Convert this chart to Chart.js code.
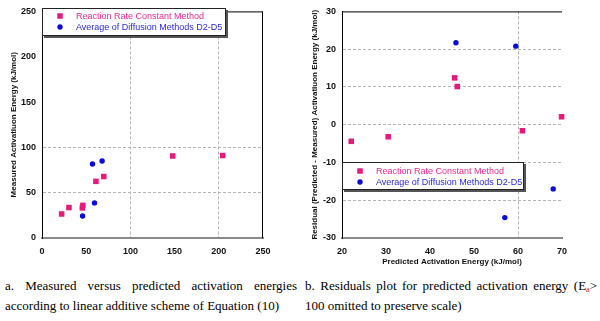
<!DOCTYPE html>
<html>
<head>
<meta charset="utf-8">
<script src="https://cdn.jsdelivr.net/npm/chart.js@4/dist/chart.umd.min.js"></script>
<style>
  html, body { margin: 0; padding: 0; background: #fff; }
  body { width: 600px; height: 321px; position: relative; overflow: hidden; }
  canvas { position: absolute; top: 0; }
  #c1 { left: 0; }
  #c2 { left: 300px; }
  .cap { position: absolute; font-family: "Liberation Serif", "Times New Roman", serif; font-size: 13px; line-height: 20px; color: #000; white-space: nowrap; }
  .just { text-align: justify; text-align-last: justify; white-space: normal; }
  sub { font-size: 8px; color: #e0202a; vertical-align: -2px; line-height: 0; }
</style>
</head>
<body>
<canvas id="c1" width="300" height="270"></canvas>
<canvas id="c2" width="300" height="270"></canvas>
<div class="cap just" style="left:5px; top:276px; width:292px;">a. Measured versus predicted activation energies</div>
<div class="cap" style="left:5px; top:296px;">according to linear additive scheme of Equation (10)</div>
<div class="cap just" style="left:305px; top:276px; width:292px;">b. Residuals plot for predicted activation energy (E<sub>a</sub>&gt;</div>
<div class="cap" style="left:305px; top:296px;">100 omitted to preserve scale)</div>
<script>
// ---- Data ----
const seriesNames = ["Reaction Rate Constant Method", "Average of Diffusion Methods D2-D5"];

// Chart a: measured vs predicted
const rrcPredicted  = [22.2, 30.5, 45.6, 46.2, 61.0, 69.9, 147.8, 204.4];
const rrcMeasured   = [26.5, 33.6, 33.2, 36.0, 62.5, 67.8, 90.5, 91.0];
const diffPredicted = [45.9, 59.4, 57.1, 68.0];
const diffMeasured  = [24.3, 38.7, 81.6, 85.0];

// Chart b: residuals (predicted < 100 only)
const rrcResPredicted  = [22.1, 30.5, 45.6, 46.2, 61.0, 69.9];
const rrcResidual      = [-4.4, -3.2, 12.4, 10.1, -1.6, 2.1];
const diffResPredicted = [45.9, 59.5, 57.0, 68.0];
const diffResidual     = [21.7, 20.8, -24.6, -17.0];

// Axis tick settings
const axisA = { xMin: 0, xMax: 250, xStep: 50, yMin: 0, yMax: 250, yStep: 50 };
const axisB = { xMin: 20, xMax: 70, xStep: 10, yMin: -30, yMax: 30, yStep: 10 };
const gridA = { x: [100, 200], y: [50, 100] };
const gridB = { x: [60], y: [-20, -10, 0, 10, 20] };

const titles = {
  yA: "Measured Activatiuon Energy (kJ/mol)",
  yB: "Residual (Predicted - Measured) Activatiuon Energy (kJ/mol)",
  xB: "Predicted Activation Energy (kJ/mol)"
};

// ---- Styles ----
const PINK = "#e8197a";
const BLUE = "#0a0ae0";
const PINK_TXT = "#ee2a8a";
const BLUE_TXT = "#2a2ad8";
const FONT = "'Liberation Sans', Arial, sans-serif";

function toPoints(xs, ys) { return xs.map((x, i) => ({ x: x, y: ys[i] })); }

const framePlugin = {
  id: 'frame',
  afterDraw(chart, args, opts) {
    const { ctx, chartArea: a } = chart;
    ctx.save();
    ctx.strokeStyle = '#000';
    ctx.lineWidth = 1;
    ctx.beginPath();
    ctx.moveTo(a.left, a.top + 0.5);
    ctx.lineTo(a.right, a.top + 0.5);
    if (opts.right) {
      ctx.moveTo(a.right - 0.5, a.top);
      ctx.lineTo(a.right - 0.5, a.bottom);
    }
    ctx.stroke();
    ctx.restore();
  }
};

const boxLegend = {
  id: 'boxLegend',
  afterDraw(chart, args, o) {
    const { ctx } = chart;
    ctx.save();
    // shadow
    ctx.fillStyle = '#555';
    ctx.fillRect(o.x + 2, o.y + 2, o.w, o.h);
    ctx.fillStyle = '#fff';
    ctx.fillRect(o.x, o.y, o.w, o.h);
    ctx.strokeStyle = '#222';
    ctx.lineWidth = 1;
    ctx.strokeRect(o.x + 0.5, o.y + 0.5, o.w - 1, o.h - 1);
    ctx.font = "9px " + FONT;
    ctx.textBaseline = 'middle';
    chart.data.datasets.forEach((ds, i) => {
      const my = o.y + o.row0 + i * o.rowGap;
      const mx = o.x + o.markerX;
      ctx.fillStyle = ds.backgroundColor;
      if (ds.pointStyle === 'rect') {
        ctx.fillRect(mx - 2.75, my - 2.75, 5.5, 5.5);
      } else {
        ctx.beginPath();
        ctx.arc(mx, my, 2.7, 0, Math.PI * 2);
        ctx.fill();
      }
      ctx.fillStyle = i === 0 ? PINK_TXT : BLUE_TXT;
      ctx.fillText(ds.label, o.x + o.textX, my + 0.5);
    });
    ctx.restore();
  }
};

function makeScales(ax, grid, yTitle, xTitle, yTitlePad) {
  return {
    x: {
      type: 'linear', min: ax.xMin, max: ax.xMax,
      afterFit(s) { s.height = 32; },
      ticks: { stepSize: ax.xStep, padding: 8, color: '#111', font: { family: FONT, size: 9, weight: 'bold' } },
      grid: {
        drawTicks: false, lineWidth: 1,
        color: c => (c.tick && grid.x.includes(c.tick.value)) ? '#b5b5b5' : 'rgba(0,0,0,0)'
      },
      border: { display: true, color: '#8a8a8a', width: 2, dash: [3, 2] },
      title: xTitle ? { display: true, text: xTitle, color: '#111', padding: { top: 0, bottom: 3 }, font: { family: FONT, size: 8, weight: 'bold' } } : { display: false }
    },
    y: {
      type: 'linear', min: ax.yMin, max: ax.yMax,
      afterFit(s) { s.width = 42; },
      ticks: { stepSize: ax.yStep, padding: 6, color: '#111', font: { family: FONT, size: 9, weight: 'bold' } },
      grid: {
        drawTicks: false, lineWidth: 1,
        color: c => (c.tick && grid.y.includes(c.tick.value)) ? '#b5b5b5' : 'rgba(0,0,0,0)'
      },
      border: { display: true, color: '#000', width: 1, dash: [3, 2] },
      title: { display: true, text: yTitle, color: '#111', padding: { top: yTitlePad, bottom: 0 }, font: { family: FONT, size: 8, weight: 'bold' } }
    }
  };
}

function datasets(px, py, dx, dy) {
  return [
    { label: seriesNames[0], data: toPoints(px, py), pointStyle: 'rect', pointRadius: 3.9, pointHoverRadius: 3.9,
      backgroundColor: PINK, borderColor: PINK, borderWidth: 0, clip: false },
    { label: seriesNames[1], data: toPoints(dx, dy), pointStyle: 'circle', pointRadius: 2.7, pointHoverRadius: 2.7,
      backgroundColor: BLUE, borderColor: BLUE, borderWidth: 0, clip: false }
  ];
}

new Chart(document.getElementById('c1'), {
  type: 'scatter',
  data: { datasets: datasets(rrcPredicted, rrcMeasured, diffPredicted, diffMeasured) },
  options: {
    responsive: false, animation: false, devicePixelRatio: 1,
    layout: { padding: { left: 0, top: 8, right: 37, bottom: 0 } },
    plugins: {
      legend: { display: false }, tooltip: { enabled: false },
      frame: { right: true },
      boxLegend: { x: 42, y: 8, w: 184, h: 28, markerX: 18, textX: 34, row0: 8, rowGap: 11 }
    },
    scales: makeScales(axisA, gridA, titles.yA, null, 9)
  },
  plugins: [framePlugin, boxLegend]
});

new Chart(document.getElementById('c2'), {
  type: 'scatter',
  data: { datasets: datasets(rrcResPredicted, rrcResidual, diffResPredicted, diffResidual) },
  options: {
    responsive: false, animation: false, devicePixelRatio: 1,
    layout: { padding: { left: 0, top: 8, right: 38, bottom: 0 } },
    plugins: {
      legend: { display: false }, tooltip: { enabled: false },
      frame: { right: false },
      boxLegend: { x: 42, y: 162, w: 182, h: 28, markerX: 18, textX: 34, row0: 9, rowGap: 11 }
    },
    scales: makeScales(axisB, gridB, titles.yB, titles.xB, 10)
  },
  plugins: [framePlugin, boxLegend]
});
</script>
</body>
</html>
